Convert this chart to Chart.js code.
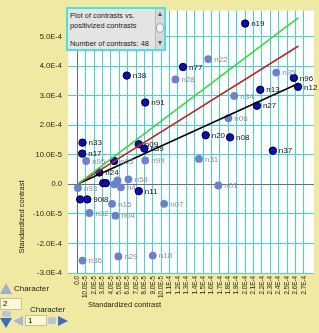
<!DOCTYPE html>
<html>
<head>
<meta charset="utf-8">
<script src="https://cdn.jsdelivr.net/npm/chart.js@4.4.1/dist/chart.umd.min.js"></script>
<style>
  body { margin: 0; background: #efe9a2; font-family: "Liberation Sans", Arial, sans-serif; }
  #wrap { position: relative; width: 319px; height: 333px; overflow: hidden; }
  #chart { position: absolute; left: 0; top: 0; }
  #info { position: absolute; left: 66px; top: 7px; width: 96px; height: 40px; background: #e4e4e4;
          border: 2px solid #45e2e8; font-size: 7.4px; color: #222; }
  #info .ln { position: absolute; left: 2px; white-space: nowrap; }
  #info .sb { position: absolute; right: 0; top: 0; width: 8px; height: 40px; background: #d8d8d8; border-left: 1px solid #bbb; }
  .w { position: absolute; font-size: 8px; color: #222; white-space: nowrap; }
  .field { position: absolute; background: #fbf8d8; border: 1px solid #c8c290; font-size: 8px; padding-left: 2px; box-sizing: border-box; }
  .tri { position: absolute; width: 0; height: 0; }
</style>
</head>
<body>
<div id="wrap">
  <canvas id="chart" width="319" height="333"></canvas>

  <div id="info">
    <div class="ln" style="top:2px">Plot of contrasts vs.</div>
    <div class="ln" style="top:12px">positivized contrasts</div>
    <div class="ln" style="top:30px">Number of contrasts: 48</div>
    <div class="sb">
      <div class="tri" style="left:1.5px;top:3px;border-left:2.5px solid transparent;border-right:2.5px solid transparent;border-bottom:4px solid #555;"></div>
      <div style="position:absolute;left:0;top:14px;width:8px;height:10px;border-radius:5px;background:#f2f2f2;border:1px solid #aaa;box-sizing:border-box;"></div>
      <div class="tri" style="left:1.5px;top:32px;border-left:2.5px solid transparent;border-right:2.5px solid transparent;border-top:4px solid #555;"></div>
    </div>
  </div>

  <!-- bottom-left controls -->
  <div class="tri" style="left:0;top:283px;border-left:6px solid transparent;border-right:6px solid transparent;border-bottom:11px solid #9fb0cc;"></div>
  <div class="w" style="left:14px;top:284px">Character</div>
  <div class="field" style="left:0;top:298px;width:22px;height:12px;">2</div>
  <div style="position:absolute;left:2px;top:311px;width:9px;height:6px;background:#b8c4d8;border-radius:2px;"></div>
  <div class="tri" style="left:0;top:318px;border-left:6px solid transparent;border-right:6px solid transparent;border-top:10px solid #3a6fc0;"></div>
  <div class="w" style="left:30px;top:305px">Character</div>
  <div class="tri" style="left:13px;top:316px;border-top:5px solid transparent;border-bottom:5px solid transparent;border-right:10px solid #a8b8d4;"></div>
  <div class="field" style="left:25px;top:315px;width:22px;height:11px;">1</div>
  <div style="position:absolute;left:48px;top:317px;width:8px;height:7px;background:#b8c4d8;border-radius:2px;"></div>
  <div class="tri" style="left:58px;top:316px;border-top:5px solid transparent;border-bottom:5px solid transparent;border-left:10px solid #3a6fc0;"></div>
</div>

<script>
  // Tick values and labels (as printed in the original plot)
  const xTickValues = [0, 1e-5, 2e-5, 3e-5, 4e-5, 5e-5, 6e-5, 7e-5, 8e-5, 9e-5, 1e-4,
    1.1e-4, 1.2e-4, 1.3e-4, 1.4e-4, 1.5e-4, 1.6e-4, 1.7e-4, 1.8e-4, 1.9e-4, 2.0e-4,
    2.1e-4, 2.2e-4, 2.3e-4, 2.4e-4, 2.5e-4, 2.6e-4, 2.7e-4];
  const xTickLabels = ['0.0', '10.0E-5', '2.0E-5', '3.0E-5', '4.0E-5', '5.0E-5', '6.0E-5', '7.0E-5',
    '8.0E-5', '9.0E-5', '10.0E-5', '1.1E-4', '1.2E-4', '1.3E-4', '1.4E-4', '1.5E-4', '1.6E-4',
    '1.7E-4', '1.8E-4', '1.9E-4', '2.0E-4', '2.1E-4', '2.2E-4', '2.3E-4', '2.4E-4', '2.5E-4',
    '2.6E-4', '2.7E-4'];
  const yTickValues = [-3e-4, -2e-4, -1e-4, 0, 1e-4, 2e-4, 3e-4, 4e-4, 5e-4];
  const yTickLabels = ['-3.0E-4', '-2.0E-4', '-10.0E-5', '0.0', '10.0E-5', '2.0E-4', '3.0E-4', '4.0E-4', '5.0E-4'];

  // Dark (selected) contrasts
  const darkNames = ['n19', 'n77', 'n38', 'n91', 'n96', 'n12', 'n13', 'n27', 'n20', 'n08', 'n37',
    'n33', 'n17', 'n09', 'n39', '', 'n24', '', '', 'n11', '', '90l8'];
  const darkX = [2.00e-4, 1.26e-4, 0.59e-4, 0.81e-4, 2.58e-4, 2.63e-4, 2.18e-4, 2.14e-4, 1.53e-4, 1.82e-4, 2.33e-4,
    0.063e-4, 0.059e-4, 0.733e-4, 0.80e-4, 0.439e-4, 0.263e-4, 0.31e-4, 0.34e-4, 0.733e-4, 0.035e-4, 0.12e-4];
  const darkY = [5.44e-4, 3.97e-4, 3.68e-4, 2.77e-4, 3.60e-4, 3.30e-4, 3.20e-4, 2.66e-4, 1.66e-4, 1.59e-4, 1.14e-4,
    1.41e-4, 1.04e-4, 1.36e-4, 1.21e-4, 0.79e-4, 0.40e-4, 0.04e-4, 0.04e-4, -0.23e-4, -0.51e-4, -0.51e-4];

  // Light (unselected) contrasts
  const lightNames = ['n22', 'n28', 'n35', 'n34', 'n06', 'n31', 'n01', 'n07', 'n18', 'n29', 'n36',
    'n32', 'n04', 'n16', 'n93', 'n95', 'n99', 'n03', '', '', 'n4', 'n58'];
  const lightX = [1.56e-4, 1.17e-4, 2.37e-4, 1.87e-4, 1.80e-4, 1.45e-4, 1.68e-4, 1.035e-4, 0.90e-4, 0.49e-4, 0.063e-4,
    0.145e-4, 0.455e-4, 0.415e-4, 0.008e-4, 0.106e-4, 0.81e-4, 0.439e-4, 0.44e-4, 0.48e-4, 0.52e-4, 0.61e-4];
  const lightY = [4.24e-4, 3.55e-4, 3.78e-4, 2.99e-4, 2.24e-4, 0.86e-4, -0.04e-4, -0.66e-4, -2.41e-4, -2.44e-4, -2.58e-4,
    -0.97e-4, -1.06e-4, -0.66e-4, -0.12e-4, 0.79e-4, 0.81e-4, 0.79e-4, 0.0, 0.13e-4, -0.10e-4, 0.17e-4];

  // Reference lines from the origin
  const lineEndX = 2.635e-4;
  const greenEndY = 5.64e-4;
  const redEndY = 4.68e-4;
  const blackEndY = 3.41e-4;

  const cyan = '#3fd6de';
  const purple = '#6a64a8';

  function toPoints(xs, ys) {
    return xs.map((x, i) => ({ x: x, y: ys[i] }));
  }

  // White plot background
  const plotBackground = {
    id: 'plotBackground',
    beforeDraw(chart) {
      const a = chart.chartArea;
      chart.ctx.save();
      chart.ctx.fillStyle = '#ffffff';
      chart.ctx.fillRect(a.left, a.top, a.right - a.left, a.bottom - a.top);
      chart.ctx.restore();
    }
  };

  // Names next to the points
  const pointLabels = {
    id: 'pointLabels',
    afterDatasetsDraw(chart) {
      const ctx = chart.ctx;
      ctx.save();
      ctx.font = '8px "Liberation Sans", Arial, sans-serif';
      ctx.textBaseline = 'middle';
      chart.data.datasets.forEach((ds, i) => {
        if (!ds.names) return;
        ctx.fillStyle = ds.labelColor;
        chart.getDatasetMeta(i).data.forEach((pt, j) => {
          if (ds.names[j]) ctx.fillText(ds.names[j], pt.x + 6, pt.y + 0.5);
        });
      });
      ctx.restore();
    }
  };

  // Axis titles (placed like the original, not centred)
  const axisTitles = {
    id: 'axisTitles',
    afterDraw(chart) {
      const ctx = chart.ctx;
      ctx.save();
      ctx.font = '7.5px "Liberation Sans", Arial, sans-serif';
      ctx.fillStyle = '#222';
      ctx.textBaseline = 'middle';
      ctx.fillText('Standardized contrast', 88, 305);
      ctx.translate(22, 217);
      ctx.rotate(-Math.PI / 2);
      ctx.textAlign = 'center';
      ctx.fillText('Standardized contrast', 0, 0);
      ctx.restore();
    }
  };

  document.addEventListener('DOMContentLoaded', function() {
    const ctx = document.getElementById('chart').getContext('2d');

    new Chart(ctx, {
      type: 'scatter',
      data: {
        datasets: [
          {
            data: [{ x: 0, y: 0 }, { x: lineEndX, y: greenEndY }],
            showLine: true, borderColor: '#33dd33', borderWidth: 1.6, pointRadius: 0
          },
          {
            data: [{ x: 0, y: 0 }, { x: lineEndX, y: redEndY }],
            showLine: true, borderColor: '#cc2020', borderWidth: 1.6, pointRadius: 0
          },
          {
            data: [{ x: 0, y: 0 }, { x: lineEndX, y: blackEndY }],
            showLine: true, borderColor: '#000000', borderWidth: 1.6, pointRadius: 0
          },
          {
            data: toPoints(darkX, darkY),
            names: darkNames, labelColor: '#111',
            backgroundColor: '#0a0ad0', borderColor: '#000', borderWidth: 1, pointRadius: 3.7
          },
          {
            data: toPoints(lightX, lightY),
            names: lightNames, labelColor: '#8a8d9c',
            backgroundColor: '#6b80d2', borderColor: '#6b80d2', borderWidth: 0, pointRadius: 3.9
          }
        ]
      },
      options: {
        responsive: false,
        animation: false,
        layout: { padding: { top: 7, right: 1, left: 0, bottom: 0 } },
        plugins: {
          legend: { display: false },
          tooltip: { enabled: false }
        },
        scales: {
          x: {
            type: 'linear',
            min: -1.1e-5,
            max: 2.82e-4,
            afterBuildTicks: scale => { scale.ticks = xTickValues.map(v => ({ value: v })); },
            afterFit: scale => { scale.height = 60; },
            border: { display: false },
            grid: {
              color: c => (c.tick && c.tick.value === 0) ? purple : cyan,
              lineWidth: 1,
              drawTicks: false
            },
            ticks: {
              autoSkip: false,
              minRotation: 90,
              maxRotation: 90,
              padding: 3,
              color: '#222',
              font: { size: 6.3, family: '"Liberation Sans", Arial, sans-serif' },
              callback: (v, i) => xTickLabels[i]
            }
          },
          y: {
            type: 'linear',
            min: -3e-4,
            max: 5.88e-4,
            afterBuildTicks: scale => { scale.ticks = yTickValues.map(v => ({ value: v })); },
            afterFit: scale => { scale.width = 68; },
            border: { display: false },
            grid: {
              color: c => (c.tick && c.tick.value === 0) ? purple : cyan,
              lineWidth: 1,
              drawTicks: false
            },
            ticks: {
              padding: 6,
              color: '#222',
              font: { size: 7.6, family: '"Liberation Sans", Arial, sans-serif' },
              callback: (v, i) => yTickLabels[i]
            }
          }
        }
      },
      plugins: [plotBackground, pointLabels, axisTitles]
    });
  });
</script>
</body>
</html>
